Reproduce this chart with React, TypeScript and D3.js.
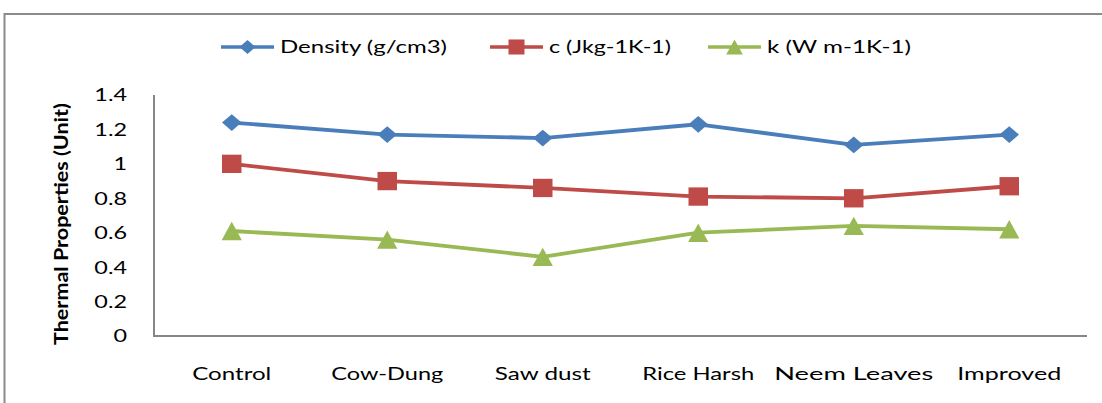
import React from "react";
import * as d3 from "d3";

const categories = ["Control", "Cow-Dung", "Saw dust", "Rice Harsh", "Neem Leaves", "Improved"];
const density = [1.24, 1.17, 1.15, 1.23, 1.11, 1.17];
const cValues = [1.0, 0.9, 0.86, 0.81, 0.8, 0.87];
const kValues = [0.61, 0.56, 0.46, 0.6, 0.64, 0.62];
const yTicks = [0, 0.2, 0.4, 0.6, 0.8, 1, 1.2, 1.4];
const seriesNames = ["Density (g/cm3)", "c (Jkg-1K-1)", "k (W m-1K-1)"];

const W = 1102;
const H = 403;
const FONT = "Lato, 'Open Sans', sans-serif";
const AXIS = "#868686";

// rendered text widths (style only) to mimic the stretched Calibri text
const labelWidth: Record<string, number> = {
  "Density (g/cm3)": 167,
  "c (Jkg-1K-1)": 122,
  "k (W m-1K-1)": 144,
  Control: 79,
  "Cow-Dung": 112,
  "Saw dust": 96,
  "Rice Harsh": 112,
  "Neem Leaves": 159,
  Improved: 104,
};

const series = [
  { name: seriesNames[0], values: density, color: "#4A7EBB", marker: "diamond" },
  { name: seriesNames[1], values: cValues, color: "#BE4B48", marker: "square" },
  { name: seriesNames[2], values: kValues, color: "#98B954", marker: "triangle" },
];

function markerPath(type: string, cx: number, cy: number, s: number) {
  if (type === "diamond") {
    const w = s * 0.5, h = s * 0.43;
    return `M${cx - w},${cy}L${cx},${cy - h}L${cx + w},${cy}L${cx},${cy + h}Z`;
  }
  if (type === "square") {
    const w = s * 0.5, h = s * 0.47;
    return `M${cx - w},${cy - h}H${cx + w}V${cy + h}H${cx - w}Z`;
  }
  const w = s * 0.52, h = s * 0.47;
  return `M${cx},${cy - h}L${cx + w},${cy + h}L${cx - w},${cy + h}Z`;
}

export default function App() {
  const x = d3.scalePoint<string>().domain(categories).range([154, 1087]).padding(0.5);
  const y = d3.scaleLinear().domain([0, 1.4]).range([336, 95]);
  const line = d3
    .line<number>()
    .x((_, i) => x(categories[i]) as number)
    .y((d) => y(d));

  const legendX = [221, 490, 708];

  return (
    <svg width={W} height={H} style={{ position: "absolute", left: 0, top: 0, background: "#fff" }}>
      <rect x={4.5} y={14} width={W + 20} height={H + 20} fill="#fff" stroke="#8a8a8a" strokeWidth={2} />

      {/* Legend */}
      {series.map((s, i) => (
        <g key={s.name}>
          <line x1={legendX[i]} x2={legendX[i] + 53} y1={47} y2={47} stroke={s.color} strokeWidth={3.5} />
          <path d={markerPath(s.marker, legendX[i] + 26.5, 47, 16)} fill={s.color} />
          <text
            x={legendX[i] + 59}
            y={47}
            dy="0.36em"
            fontFamily={FONT}
            fontSize={18}
            fill="#000"
            textLength={labelWidth[s.name]}
            lengthAdjust="spacingAndGlyphs"
          >
            {s.name}
          </text>
        </g>
      ))}

      {/* Axes */}
      <line x1={154} x2={154} y1={y(1.4)} y2={y(0)} stroke={AXIS} strokeWidth={2} />
      <line x1={153} x2={1087} y1={y(0)} y2={y(0)} stroke={AXIS} strokeWidth={2} />

      {yTicks.map((t) => (
        <text
          key={t}
          transform={`translate(127,${y(t)}) scale(1.3,1)`}
          dy="0.36em"
          textAnchor="end"
          fontFamily={FONT}
          fontSize={18}
          fill="#000"
        >
          {String(t)}
        </text>
      ))}

      {categories.map((c) => (
        <text
          key={c}
          x={(x(c) as number) - labelWidth[c] / 2}
          y={374}
          dy="0.36em"
          fontFamily={FONT}
          fontSize={18}
          fill="#000"
          textLength={labelWidth[c]}
          lengthAdjust="spacingAndGlyphs"
        >
          {c}
        </text>
      ))}

      <text
        transform={`translate(62,224) rotate(-90)`}
        x={-121}
        dy="0.36em"
        fontFamily={FONT}
        fontWeight="bold"
        fontSize={18}
        fill="#000"
        textLength={242}
        lengthAdjust="spacingAndGlyphs"
      >
        Thermal Properties (Unit)
      </text>

      {/* Series */}
      {series.map((s) => (
        <g key={s.name}>
          <path d={line(s.values) || ""} fill="none" stroke={s.color} strokeWidth={3.8} strokeLinejoin="round" />
          {s.values.map((v, i) => (
            <path key={i} d={markerPath(s.marker, x(categories[i]) as number, y(v), 19.5)} fill={s.color} />
          ))}
        </g>
      ))}
    </svg>
  );
}
